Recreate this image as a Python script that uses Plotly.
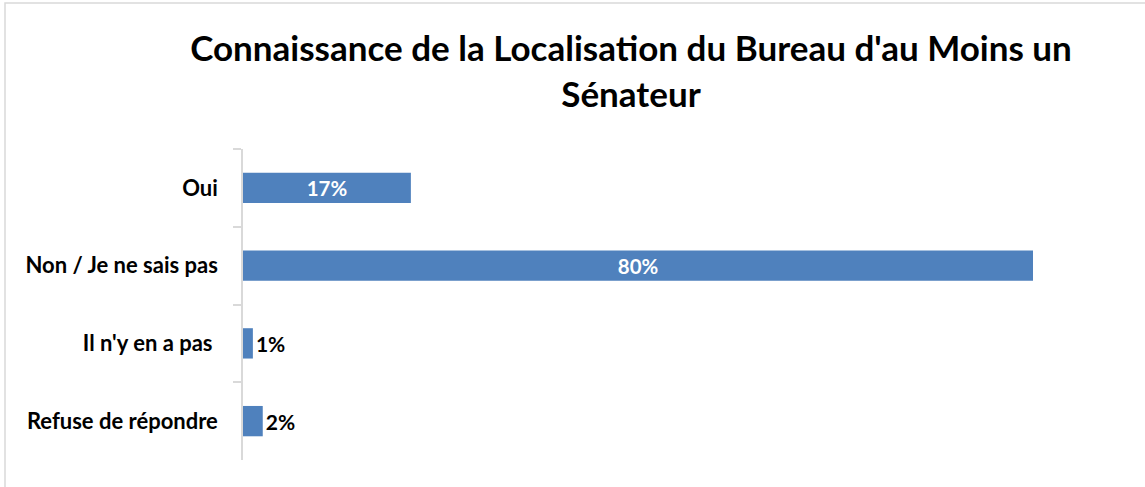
import plotly.graph_objects as go

categories = ["Oui", "Non / Je ne sais pas", "Il n'y en a pas ", "Refuse de répondre"]
values = [17, 80, 1, 2]
labels = ["17%", "80%", "1%", "2%"]
title_text = "Connaissance de la Localisation du Bureau d'au Moins un<br>Sénateur"

W, H = 1145, 487
ml, mr, mt, mb = 243, 45, 149, 27
pw, ph = W - ml - mr, H - mt - mb
xmax = pw / (790 / 80)

positions = ["inside" if v >= 10 else "outside" for v in values]
text_colors = ["white" if v >= 10 else "black" for v in values]

fig = go.Figure(go.Bar(
    y=categories, x=values, orientation="h",
    marker=dict(color="#4F81BD", line=dict(width=0)),
    text=labels, textposition=positions,
    insidetextanchor="middle",
    textfont=dict(family="Lato", size=21, color=text_colors, weight="bold"),
    cliponaxis=False, width=0.39,
))

def px_x(p):
    return (p - ml) / pw

def px_y(p):
    return (H - mb - p) / ph

fig.add_shape(type="rect", xref="paper", yref="paper",
              x0=px_x(5), x1=px_x(W + 10), y0=px_y(H + 10), y1=px_y(3),
              line=dict(color="#D9D9D9", width=1.5), fillcolor="rgba(0,0,0,0)", layer="below")

fig.update_layout(
    width=W, height=H,
    margin=dict(l=ml, r=mr, t=mt, b=mb),
    paper_bgcolor="white", plot_bgcolor="white",
    title=dict(text=title_text, x=631 / W, xanchor="center", y=1 - 61 / H, yanchor="middle",
               font=dict(family="Lato", size=35, color="black", weight="bold")),
    font=dict(family="Lato", color="black"),
    showlegend=False,
)
fig.update_xaxes(range=[0, xmax], visible=False, showgrid=False, zeroline=False)
fig.update_yaxes(
    categoryorder="array", categoryarray=categories, autorange="reversed",
    showline=True, linecolor="#D9D9D9", linewidth=1.5,
    ticks="outside", tickson="boundaries", ticklen=8, tickcolor="#D9D9D9", tickwidth=1.5,
    tickfont=dict(family="Lato", size=22, color="black", weight="bold"),
    ticklabelstandoff=19, showgrid=False, zeroline=False,
)
fig.write_html("out.html", config={"displayModeBar": False},
               post_script="document.body.style.margin='0';document.body.style.overflow='hidden';")
